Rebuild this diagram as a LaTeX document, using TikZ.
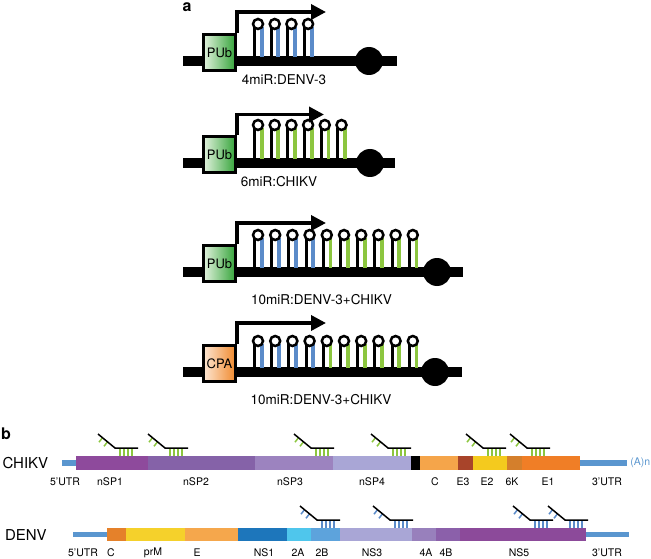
\documentclass[tikz,border=0pt]{standalone}
\usepackage{fontspec}
\setmainfont{TeX Gyre Heros}
\usetikzlibrary{arrows.meta}
\definecolor{mirblue}{HTML}{5B8BC9}
\definecolor{mirgreen}{HTML}{8CC63F}
\definecolor{utrblue}{HTML}{5A96CF}
\definecolor{pubL}{HTML}{E2F2DE}
\definecolor{pubR}{HTML}{35A43A}
\definecolor{cpaL}{HTML}{FDE6D3}
\definecolor{cpaR}{HTML}{F08A2E}
% CHIKV
\definecolor{cnspA}{HTML}{8E4A9C}
\definecolor{cnspB}{HTML}{8562A8}
\definecolor{cnspC}{HTML}{9C83BF}
\definecolor{cnspD}{HTML}{A9A6D6}
\definecolor{cC}{HTML}{F5A54A}
\definecolor{cEiii}{HTML}{A8442A}
\definecolor{cEii}{HTML}{F4CA1E}
\definecolor{cSixK}{HTML}{D47F2C}
\definecolor{cEi}{HTML}{F07E26}
% DENV
\definecolor{dC}{HTML}{E5812A}
\definecolor{dprM}{HTML}{F5D12B}
\definecolor{dE}{HTML}{F5A74C}
\definecolor{dNSi}{HTML}{1D76BB}
\definecolor{dIIA}{HTML}{4FC6EC}
\definecolor{dIIB}{HTML}{5DA3DC}
\definecolor{dNSiii}{HTML}{A9A6D6}
\definecolor{dIVA}{HTML}{9880BC}
\definecolor{dIVB}{HTML}{8B60AA}
\definecolor{dNSv}{HTML}{8C4A9A}

\newcommand\myhairpins[5]{% #1 backbone y, #2 loop height, #3 spacing, #4 n blue, #5 n total
  \foreach \i in {1,...,#5}{
    \pgfmathsetmacro\cx{258+(\i-1)*#3}
    \ifnum\i>#4 \def\stemcol{mirgreen}\else\def\stemcol{mirblue}\fi
    \draw[line width=3pt] (\cx-3.6,#1-4) -- (\cx-3.6,#1-#2+3);
    \draw[line width=3.8pt,\stemcol] (\cx+3.6,#1-4) -- (\cx+3.6,#1-#2+3);
    \draw[line width=2.5pt] (\cx,#1-#2) circle[radius=5];
  }}
\newcommand\mysite[3]{% #1 start x, #2 bar top, #3 colour
  \draw[#3,line width=1.5pt] \foreach \k in {22,26,30,34} {(#1+\k,#2-8) -- (#1+\k,#2)};
  \draw[#3,line width=1.5pt] (#1+4.5,#2-18.3) -- ++(-3.5,4.5) (#1+9.5,#2-14.2) -- ++(-3.5,4.5);
  \draw[black,line width=1.5pt] (#1,#2-22) -- (#1+17,#2-8) -- (#1+40,#2-8);
}

\begin{document}
\begin{tikzpicture}[x=1pt,y=-1pt,
  backbone/.style={line width=10pt},
  term/.style={fill=black},
  promoter/.style={draw=black,line width=3pt,minimum width=32pt,minimum height=36pt,inner sep=0pt,font=\fontsize{13}{15}\selectfont},
  tss/.style={line width=3.5pt,-{Triangle[length=15pt,width=15pt]}},
  clabel/.style={font=\fontsize{13.5}{16}\selectfont},
  panel/.style={font=\fontsize{16}{18}\selectfont\bfseries},
  vlabel/.style={font=\fontsize{15}{18}\selectfont,anchor=west},
  seglabel/.style={font=\fontsize{10.5}{12}\selectfont},
  utr/.style={utrblue,line width=5.5pt}]
\useasboundingbox (0,0) rectangle (651,559);

\node[panel] (pa) at (187,7) {a};

% ---- construct 1
\draw[backbone] (183,61) -- (397,61);
\fill[term] (369,61) circle[radius=14];
\node[promoter,left color=pubL,right color=pubR] (p1) at (219.5,52.5) {PUb};
\coordinate (a1) at (326,12);
\draw[tss] (p1.north east) |- (a1);
\myhairpins{61}{37}{16.7}{4}{4}
\node[clabel] (l1) at (284,79.5) {4miR:DENV-3};

% ---- construct 2
\draw[backbone] (183,163) -- (395,163);
\fill[term] (370,163) circle[radius=14];
\node[promoter,left color=pubL,right color=pubR] (p2) at (219.5,154.5) {PUb};
\coordinate (a2) at (324,114.5);
\draw[tss] (p2.north east) |- (a2);
\myhairpins{163}{38}{16.7}{0}{6}
\node[clabel] (l2) at (279,181.5) {6miR:CHIKV};

% ---- construct 3
\draw[backbone] (183,272) -- (463,272);
\fill[term] (437,272) circle[radius=14];
\node[promoter,left color=pubL,right color=pubR] (p3) at (219.5,263.5) {PUb};
\coordinate (a3) at (326,223);
\draw[tss] (p3.north east) |- (a3);
\myhairpins{272}{37}{17.2}{4}{10}
\node[clabel] (l3) at (321.5,300) {10miR:DENV-3+CHIKV};

% ---- construct 4
\draw[backbone] (183,372) -- (462,372);
\fill[term] (435,372) circle[radius=14];
\node[promoter,left color=cpaL,right color=cpaR] (p4) at (219.5,363.5) {CPA};
\coordinate (a4) at (326,323);
\draw[tss] (p4.north east) |- (a4);
\myhairpins{372}{31}{17.2}{4}{10}
\node[clabel] (l4) at (321,400) {10miR:DENV-3+CHIKV};

% ================= panel b
\node[panel] (pb) at (6,434) {b};

% CHIKV
\node[vlabel] (vc) at (-1,463) {CHIKV};
\draw[utr] (62,463) -- (77,463);
\draw[utr] (579,463) -- (627,463);
\fill[cnspA] (76,456) rectangle (148,470);
\fill[cnspB] (148,456) rectangle (255,470);
\fill[cnspC] (255,456) rectangle (333,470);
\fill[cnspD] (333,456) rectangle (411,470);
\fill[black] (411,456) rectangle (420,470);
\fill[cC] (420,456) rectangle (458,470);
\fill[cEiii] (458,456) rectangle (473,470);
\fill[cEii] (473,456) rectangle (507,470);
\fill[cSixK] (507,456) rectangle (522,470);
\fill[cEi] (522,456) rectangle (580,470);
\node[font=\fontsize{10.5}{12}\selectfont,text=utrblue,anchor=east,inner sep=0.5pt] (an) at (651,463) {(A)n};
\mysite{98}{456}{mirgreen}
\mysite{148}{456}{mirgreen}
\mysite{294}{456}{mirgreen}
\mysite{371}{456}{mirgreen}
\mysite{466}{456}{mirgreen}
\mysite{510}{456}{mirgreen}
\node[seglabel] (c0) at (65,482) {5’UTR};
\node[seglabel] (c1) at (110,482) {nSP1};
\node[seglabel] (c2) at (196,482) {nSP2};
\node[seglabel] (c3) at (290,482) {nSP3};
\node[seglabel] (c4) at (372,482) {nSP4};
\node[seglabel] (c5) at (435,482) {C};
\node[seglabel] (c6) at (463,482) {E3};
\node[seglabel] (c7) at (487,482) {E2};
\node[seglabel] (c8) at (512,482) {6K};
\node[seglabel] (c9) at (548,482) {E1};
\node[seglabel] (c10) at (607,482) {3’UTR};

% DENV
\node[vlabel] (vd) at (1.5,535) {DENV};
\draw[utr] (73,534.5) -- (108,534.5);
\draw[utr] (585,534.5) -- (629,534.5);
\fill[dC] (107,528) rectangle (126,541);
\fill[dprM] (126,528) rectangle (185,541);
\fill[dE] (185,528) rectangle (238,541);
\fill[dNSi] (238,528) rectangle (287,541);
\fill[dIIA] (287,528) rectangle (311,541);
\fill[dIIB] (311,528) rectangle (340,541);
\fill[dNSiii] (340,528) rectangle (412,541);
\fill[dIVA] (412,528) rectangle (436,541);
\fill[dIVB] (436,528) rectangle (460,541);
\fill[dNSv] (460,528) rectangle (586,541);
\mysite{300}{528}{mirblue}
\mysite{373}{528}{mirblue}
\mysite{513}{528}{mirblue}
\mysite{548}{528}{mirblue}
\node[seglabel] (d0) at (83,553) {5’UTR};
\node[seglabel] (d1) at (111,553) {C};
\node[seglabel] (d2) at (153,553) {prM};
\node[seglabel] (d3) at (197,553) {E};
\node[seglabel] (d4) at (264,553) {NS1};
\node[seglabel] (d5) at (298,553) {2A};
\node[seglabel] (d6) at (322,553) {2B};
\node[seglabel] (d7) at (372,553) {NS3};
\node[seglabel] (d8) at (426,553) {4A};
\node[seglabel] (d9) at (446,553) {4B};
\node[seglabel] (d10) at (519,553) {NS5};
\node[seglabel] (d11) at (607,553) {3’UTR};
\end{tikzpicture}
\end{document}
